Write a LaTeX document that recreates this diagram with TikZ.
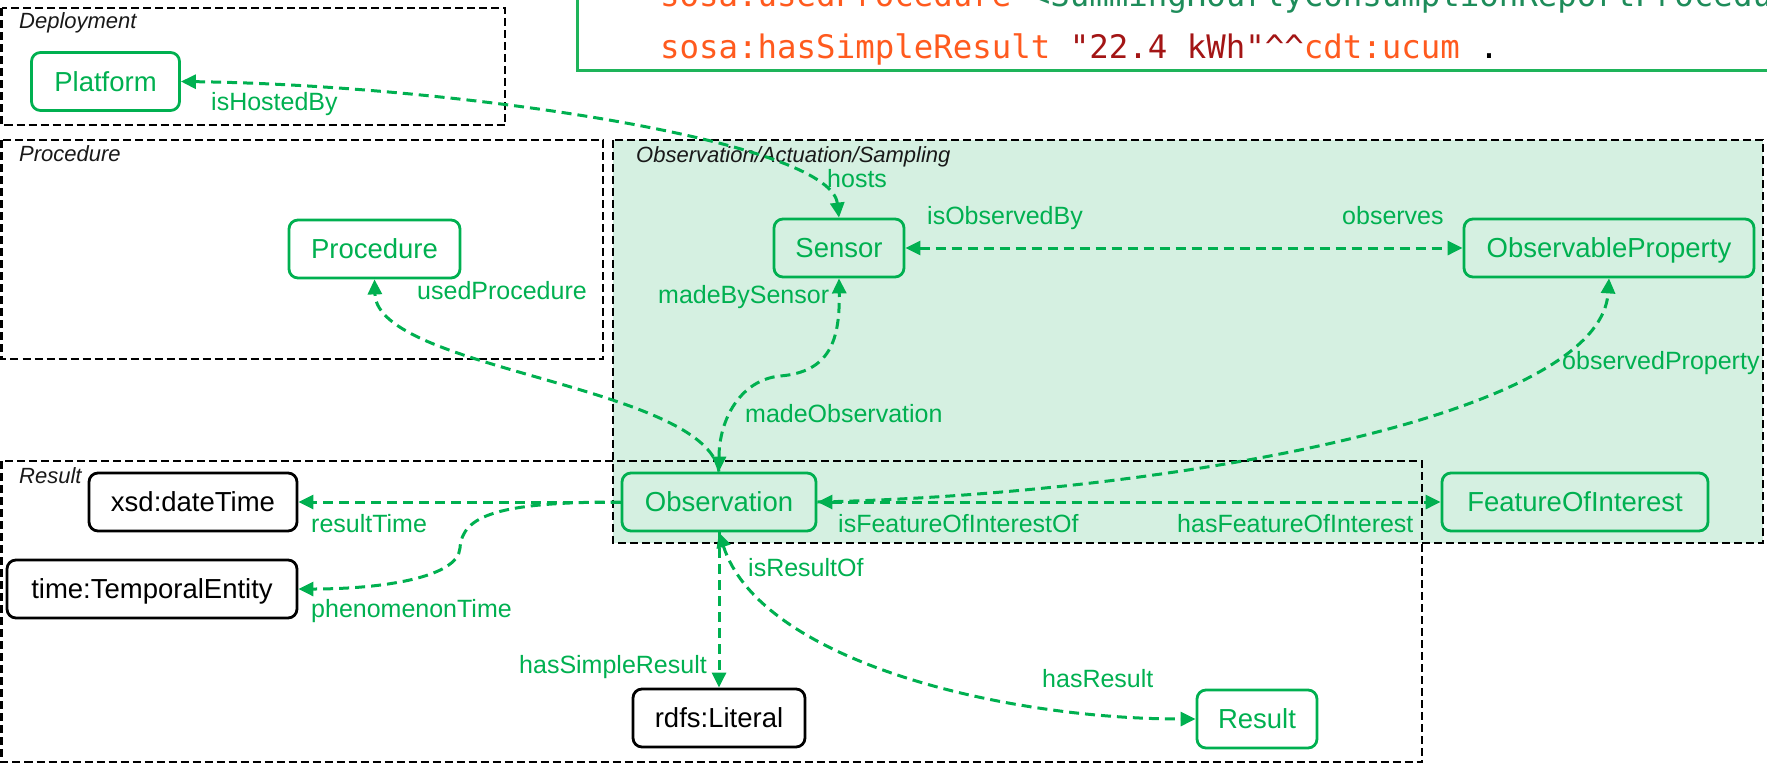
\documentclass[tikz,border=0pt]{standalone}
\usepackage{fontspec}
\setmainfont{Liberation Sans}
\newfontfamily\codefont{DejaVu Sans Mono}
\usetikzlibrary{arrows.meta}
\definecolor{sosagreen}{RGB}{0,176,80}
\definecolor{groupfill}{RGB}{213,240,225}
\definecolor{codegreen}{RGB}{30,140,90}
\definecolor{codeorange}{RGB}{255,90,30}
\definecolor{codered}{RGB}{163,21,21}
\definecolor{boxgreen}{RGB}{30,180,90}
\definecolor{titlegray}{RGB}{25,25,25}
\begin{document}
\begin{tikzpicture}[x=1pt,y=-1pt,
  >={Triangle[length=15pt,width=14pt]},
  basenode/.style={line width=2.8pt, rounded corners=9pt,
    font=\fontsize{27.5}{30}\selectfont, minimum height=58pt,
    text height=19.7pt, text depth=0pt, inner sep=0pt},
  gnode/.style={basenode, draw=sosagreen, text=sosagreen},
  knode/.style={basenode, draw=black, text=black},
  lbl/.style={text=sosagreen, font=\fontsize{25}{28}\selectfont, inner sep=0pt},
  grptitle/.style={text=titlegray, font=\fontsize{22}{24}\selectfont\itshape, inner sep=0pt, anchor=base west},
  grp/.style={draw=black, line width=2.4pt, dash pattern=on 8pt off 4pt},
  edge/.style={draw=sosagreen, line width=3pt, dash pattern=on 10pt off 6pt},
  codetxt/.style={font=\fontsize{32.4}{40}\codefont, inner sep=0pt, anchor=base west}
]
\useasboundingbox (0,0) rectangle (1767,764);
\clip (0,0) rectangle (1767,764);

% code box
\draw[boxgreen, line width=3pt] (577,-20) rectangle (1800,70);
\node[codetxt] (code1) at (660,6) {\textcolor{codeorange}{sosa:usedProcedure} \textcolor{codegreen}{<SummingHourlyConsumptionReportProcedu}};
\node[codetxt] (code2) at (660,58) {\textcolor{codeorange}{sosa:hasSimpleResult} \textcolor{codered}{"22.4 kWh"\textasciicircum\textasciicircum}\textcolor{codeorange}{cdt:ucum} .};

% groups
\fill[groupfill] (613,140) rectangle (1763,543);
\draw[grp] (1.5,8) rectangle (505,125);
\draw[grp] (1.5,140) rectangle (603,359);
\draw[grp] (613,140) rectangle (1763,543);
\draw[grp] (1.5,461) rectangle (1422,762);
\node[grptitle] (tdep) at (19,28) {Deployment};
\node[grptitle] (tproc) at (19,161) {Procedure};
\node[grptitle] (tobs) at (636,162) {Observation/Actuation/Sampling};
\node[grptitle] (tres) at (19,483) {Result};

% nodes
\node[gnode, minimum width=148pt] (platform) at (105.5,81.5) {Platform};
\node[gnode, minimum width=171pt] (procedure) at (374.5,249) {Procedure};
\node[gnode, minimum width=130pt] (sensor) at (839,248) {Sensor};
\node[gnode, minimum width=290pt] (obsprop) at (1609,248) {ObservableProperty};
\node[gnode, fill=groupfill, minimum width=194pt] (observation) at (719,502) {Observation};
\node[gnode, minimum width=266pt] (foi) at (1575,502) {FeatureOfInterest};
\node[knode, minimum width=208pt] (datetime) at (193,502) {xsd:dateTime};
\node[knode, minimum width=290pt] (temporal) at (152,589) {time:TemporalEntity};
\node[knode, minimum width=172pt] (literal) at (719,718) {rdfs:Literal};
\node[gnode, minimum width=120pt] (result) at (1257,719) {Result};

% edges
\draw[edge,<->] (platform.east) .. controls (450,85) and (830,140) .. (sensor.north);
\draw[edge,->] (observation.north) .. controls (705,385) and (377,370) .. (procedure.south);
\draw[edge,<->] (observation.north) .. controls (719,420) and (740,380) .. (780,376)
  .. controls (830,372) and (840,340) .. (sensor.south);
\draw[edge,<->] (sensor.east) -- (obsprop.west);
\draw[edge,->] (observation.east) .. controls (1150,495) and (1600,420) .. (obsprop.south);
\draw[edge,<->] (observation.east) -- (foi.west);
\draw[edge,->] (observation.west) -- (datetime.east);
\draw[edge,->] (observation.west) .. controls (500,502) and (462,515) .. (460,548)
  .. controls (458,578) and (380,589) .. (temporal.east);
\draw[edge,->] (observation.south) -- (literal.north);
\draw[edge,<->] (observation.south) .. controls (760,660) and (1000,719) .. (result.west);

% edge labels
\node[lbl, anchor=base west] (l1) at (211,110) {isHostedBy};
\node[lbl, anchor=base west] (l2) at (827,187) {hosts};
\node[lbl, anchor=base west] (l3) at (417,299) {usedProcedure};
\node[lbl, anchor=base west] (l4) at (658,303) {madeBySensor};
\node[lbl, anchor=base west] (l5) at (745,422) {madeObservation};
\node[lbl, anchor=base west] (l6) at (927,224) {isObservedBy};
\node[lbl, anchor=base west] (l7) at (1342,224) {observes};
\node[lbl, anchor=base west] (l8) at (1562,369) {observedProperty};
\node[lbl, anchor=base west] (l9) at (311,532) {resultTime};
\node[lbl, anchor=base west] (l10) at (311,617) {phenomenonTime};
\node[lbl, anchor=base west] (l11) at (838,532) {isFeatureOfInterestOf};
\node[lbl, anchor=base west] (l12) at (1177,532) {hasFeatureOfInterest};
\node[lbl, anchor=base west] (l13) at (748,576) {isResultOf};
\node[lbl, anchor=base west] (l14) at (1042,687) {hasResult};
\node[lbl, anchor=base east] (l15) at (707,673) {hasSimpleResult};
\end{tikzpicture}
\end{document}
